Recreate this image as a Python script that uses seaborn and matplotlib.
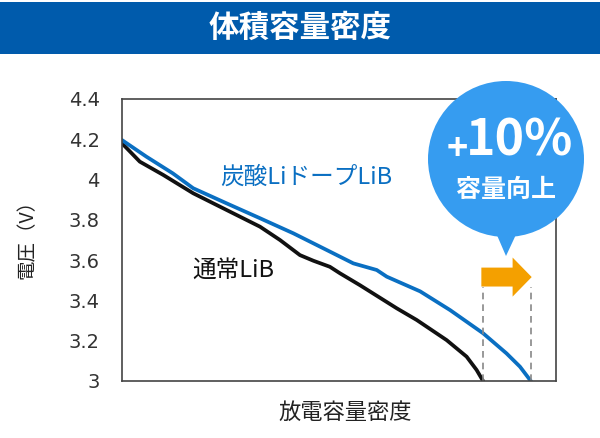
import numpy as np
import matplotlib
matplotlib.use("Agg")
import matplotlib.pyplot as plt
import seaborn as sns
from matplotlib.patches import Rectangle, Circle, Polygon, FancyArrow

# discharge curves (capacity in arbitrary units, voltage in V)
normal_x = [0, 4.1, 9.5, 16.4, 24.1, 31.8, 36.4, 41.0, 44.1, 47.9, 50.2, 54.8,
            63.3, 67.9, 74.8, 79.4, 81.7, 83.2]
normal_v = [4.18, 4.089, 4.023, 3.932, 3.849, 3.766, 3.700, 3.625, 3.597, 3.567,
            3.535, 3.476, 3.361, 3.303, 3.203, 3.121, 3.055, 3.0]

doped_x = [0, 5.6, 11.7, 16.4, 24.1, 31.8, 39.5, 47.2, 53.3, 58.7, 61.0, 68.7,
           75.6, 83.2, 88.6, 91.7, 94.2]
doped_v = [4.196, 4.114, 4.031, 3.957, 3.882, 3.808, 3.733, 3.650, 3.584, 3.551,
           3.518, 3.445, 3.352, 3.237, 3.137, 3.071, 3.0]

y_ticks = [3.0, 3.2, 3.4, 3.6, 3.8, 4.0, 4.2, 4.4]
y_tick_labels = ["3", "3.2", "3.4", "3.6", "3.8", "4", "4.2", "4.4"]

title = "体積容量密度"
x_label = "放電容量密度"
y_label = "電圧（V）"
normal_name = "通常LiB"
doped_name = "炭酸LiドープLiB"
gain_text = "10%"
gain_sub = "容量向上"

sns.set_style("white")
plt.rcParams['font.family'] = ['Noto Sans CJK JP', 'DejaVu Sans']
cjk = ['Noto Sans CJK JP', 'DejaVu Sans']

W, H = 600, 438
fig = plt.figure(figsize=(W / 100, H / 100), dpi=100)
ax = fig.add_axes([122 / W, 1 - 381 / H, 434 / W, 282 / H])

sns.lineplot(x=normal_x, y=normal_v, ax=ax, color="#111111", linewidth=2.7, sort=False)
sns.lineplot(x=doped_x, y=doped_v, ax=ax, color="#0a6fc2", linewidth=2.7, sort=False)
for ln in ax.lines:
    ln.set_solid_joinstyle('round')

ax.set_xlim(0, 100)
ax.set_ylim(3.0, 4.4)
ax.set_xticks([])
ax.set_yticks(y_ticks)
ax.set_yticklabels(y_tick_labels, family='DejaVu Sans', fontsize=14, color="#333333")
ax.tick_params(axis='y', length=0, pad=16)
for s in ax.spines.values():
    s.set_color("#444444")
    s.set_linewidth(1.2)

ax.set_xlabel(x_label, fontsize=16, family=cjk, color="#222222")
ax.xaxis.set_label_coords(0.514, -0.07)
ax.set_ylabel(y_label, fontsize=14, family=cjk, color="#222222")
ax.yaxis.set_label_coords(-0.195, 0.518)

ax.text(22.6, 4.013, doped_name, color="#0a6fc2", fontsize=17, family=cjk, va='center')
ax.text(16.1, 3.551, normal_name, color="#111111", fontsize=17, family=cjk, va='center')

# dashed guides at the end of each curve and the orange gain arrow
ends = [normal_x[-1], doped_x[-1]]
ax.vlines(ends, 3.0, 3.466, colors="#888888", linestyles=(0, (4, 3)), linewidth=1.2)
ax.add_patch(FancyArrow(ends[0] - 0.4, 3.516, ends[1] - ends[0] + 0.6, 0,
                        width=0.094, head_width=0.194, head_length=4.4,
                        length_includes_head=True, color="#f4a000", linewidth=0))

# overlay in pixel coords for the banner and the callout bubble
ov = fig.add_axes([0, 0, 1, 1], zorder=5)
ov.set_xlim(0, W)
ov.set_ylim(H, 0)
ov.axis('off')
ov.patch.set_alpha(0)

ov.add_patch(Rectangle((0, 1.5), W, 52, color="#005bac", linewidth=0))
ov.text(W / 2, 28, title, color="white", fontsize=22, fontweight='bold',
        family=cjk, ha='center', va='center')

bubble = "#369cf0"
ov.add_patch(Circle((506, 159), 78, color=bubble, linewidth=0))
ov.add_patch(Polygon([(493, 226), (520, 226), (506, 256)], closed=True,
                     color=bubble, linewidth=0))
ov.text(457, 150, "+", color="white", fontsize=26, fontweight='bold',
        family=cjk, ha='center', va='center')
ov.text(520, 141, gain_text, color="white", fontsize=36, fontweight='bold',
        family=cjk, ha='center', va='center')
ov.text(506, 190, gain_sub, color="white", fontsize=18, fontweight='bold',
        family=cjk, ha='center', va='center')

fig.savefig("out.png", dpi=100)
